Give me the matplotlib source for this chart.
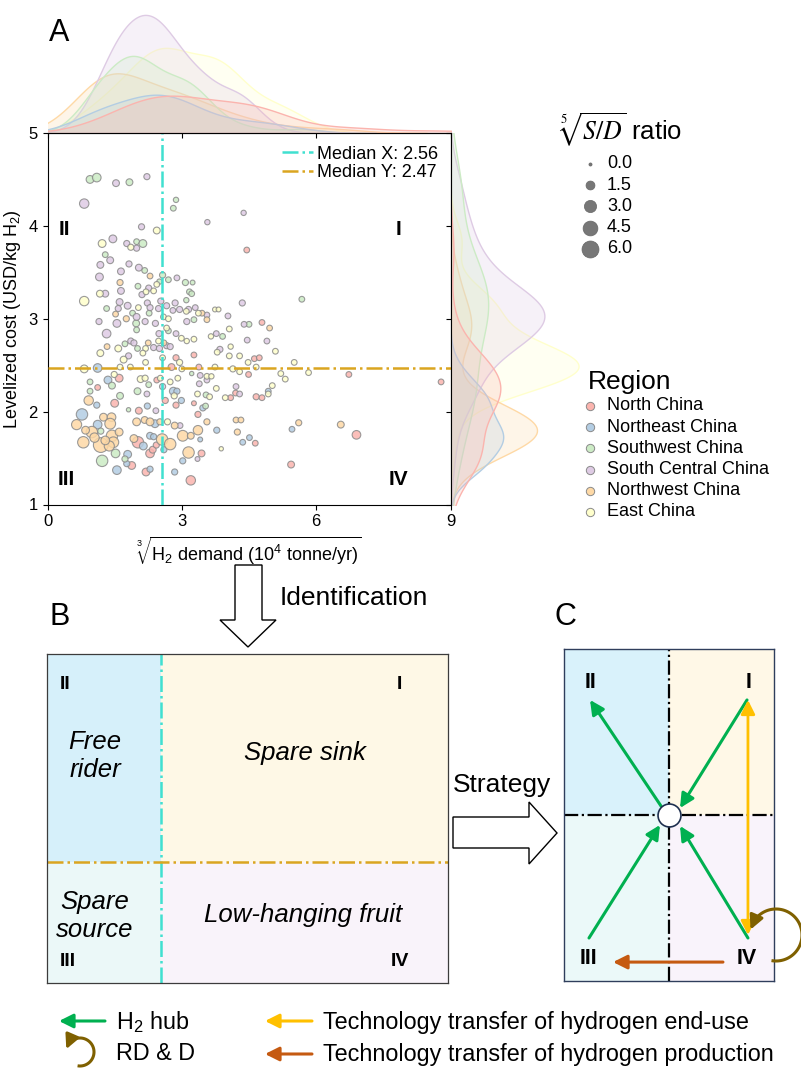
import numpy as np
import pandas as pd
import matplotlib
matplotlib.use('Agg')
import matplotlib.pyplot as plt
import seaborn as sns
from matplotlib.patches import Polygon, Rectangle

plt.rcParams['font.family'] = ['Liberation Sans', 'DejaVu Sans']
plt.rcParams['mathtext.fontset'] = 'custom'
plt.rcParams['mathtext.rm'] = 'Liberation Sans'
plt.rcParams['mathtext.it'] = 'Liberation Sans:italic'
plt.rcParams['mathtext.bf'] = 'Liberation Sans:bold'

# ---- data ----------------------------------------------------------------
regions = ['North China', 'Northeast China', 'Southwest China',
           'South Central China', 'Northwest China', 'East China']
region_colors = ['#fbb4ae', '#b3cde3', '#ccebc5', '#decbe4', '#fed9a6', '#ffffcc']

# (cube root of H2 demand, levelized cost, fifth root of S/D ratio)
north_china = [
    (4.45, 3.74, 0.5), (4.79, 2.96, 0.5), (2.87, 2.58, 0.6), (3.27, 2.61, 0.5),
    (4.62, 2.57, 0.5), (4.73, 2.58, 0.5), (2.77, 2.48, 0.8), (3.38, 2.48, 0.5),
    (4.49, 2.40, 0.5), (6.73, 2.40, 0.5), (8.79, 2.32, 0.5), (1.60, 2.36, 1.1),
    (2.44, 2.34, 0.5), (1.12, 2.26, 0.5), (4.09, 2.15, 0.5), (4.20, 2.20, 0.5),
    (4.66, 2.16, 0.6), (4.79, 2.15, 0.5), (1.50, 2.09, 1.1), (2.63, 2.12, 0.6),
    (2.87, 2.07, 0.6), (2.04, 2.01, 0.8), (3.27, 2.09, 0.3), (3.36, 1.97, 0.6),
    (2.02, 1.67, 2.6), (2.29, 1.55, 1.4), (2.35, 1.59, 0.8), (2.43, 1.64, 0.6),
    (4.64, 1.66, 0.5), (6.90, 1.75, 1.4), (3.44, 1.55, 0.8), (1.88, 1.42, 1.1),
    (2.20, 1.35, 1.1), (3.20, 1.26, 1.7), (5.44, 1.43, 0.8)]
northeast_china = [
    (1.12, 2.47, 1.4), (1.35, 2.34, 1.1), (4.93, 2.22, 0.5), (2.81, 2.22, 1.1),
    (2.89, 2.22, 0.6), (1.10, 2.07, 0.6), (2.99, 2.12, 0.6), (2.23, 2.06, 0.6),
    (3.47, 2.04, 0.6), (0.77, 1.97, 2.6), (1.12, 1.86, 1.4), (2.40, 1.87, 1.1),
    (2.14, 1.63, 1.1), (2.29, 1.74, 0.8), (2.37, 1.73, 0.6), (2.60, 1.59, 0.6),
    (3.41, 1.70, 0.3), (3.78, 1.80, 0.6), (4.36, 1.67, 0.5), (4.51, 1.72, 0.5),
    (5.46, 1.81, 0.5), (3.02, 1.47, 0.6), (1.79, 1.54, 1.1), (1.77, 1.44, 0.6),
    (1.55, 1.37, 1.4), (2.29, 1.38, 0.6), (2.84, 1.35, 0.6)]
southwest_china = [
    (0.95, 4.50, 1.1), (1.10, 4.52, 1.4), (1.83, 4.47, 0.8), (2.87, 4.28, 0.4),
    (2.81, 4.19, 0.5), (1.99, 3.83, 0.5), (2.13, 3.81, 1.1), (1.29, 3.69, 0.5),
    (2.17, 3.52, 0.5), (2.57, 3.47, 0.6), (2.70, 3.42, 0.5), (2.50, 3.40, 0.4),
    (2.02, 3.35, 0.5), (3.08, 3.39, 0.6), (3.24, 3.39, 0.3), (3.17, 3.29, 0.5),
    (3.22, 3.27, 0.5), (3.10, 3.20, 0.4), (1.32, 3.11, 0.5), (1.90, 3.06, 0.5),
    (2.27, 3.06, 0.5), (1.98, 2.95, 0.8), (3.27, 2.99, 0.5), (4.50, 2.94, 0.5),
    (1.99, 2.88, 0.5), (2.70, 2.87, 0.5), (3.91, 2.81, 0.5), (1.73, 2.73, 0.5),
    (2.01, 2.68, 0.5), (3.22, 2.41, 0.2), (0.95, 2.32, 0.5), (2.26, 2.29, 0.5),
    (0.95, 2.22, 0.5), (1.44, 2.28, 0.8), (2.01, 2.22, 0.8), (3.54, 2.18, 0.5),
    (1.62, 2.17, 0.8), (1.81, 2.02, 0.2), (3.53, 2.06, 0.5), (1.19, 1.79, 0.6),
    (1.52, 1.55, 1.4), (1.22, 1.47, 2.6), (1.73, 1.49, 0.6), (5.68, 3.21, 0.5)]
south_central_china = [
    (1.53, 4.46, 0.8), (2.22, 4.53, 0.6), (0.82, 4.24, 1.7), (4.38, 4.14, 0.4),
    (3.57, 4.04, 0.4), (2.10, 3.99, 0.6), (1.46, 3.86, 1.1), (1.77, 3.81, 0.6),
    (1.99, 3.76, 0.6), (1.40, 3.63, 0.8), (1.18, 3.58, 0.8), (1.82, 3.59, 0.6),
    (2.04, 3.55, 0.8), (1.64, 3.51, 0.8), (1.16, 3.45, 1.1), (2.89, 3.44, 0.5),
    (2.26, 3.33, 0.6), (1.64, 3.30, 0.8), (1.29, 3.27, 0.8), (2.11, 3.26, 0.6),
    (1.61, 3.18, 0.8), (2.23, 3.17, 0.6), (2.53, 3.19, 0.6), (2.85, 3.17, 0.6),
    (1.79, 3.14, 0.8), (1.58, 3.11, 0.6), (2.29, 3.12, 0.6), (2.48, 3.11, 0.6),
    (2.66, 3.14, 0.6), (2.80, 3.09, 0.5), (2.95, 3.10, 0.6), (3.15, 3.10, 0.6),
    (3.30, 3.12, 0.5), (3.56, 3.04, 0.5), (4.03, 3.03, 0.5), (4.35, 3.17, 0.6),
    (1.99, 3.02, 0.8), (1.15, 2.97, 0.6), (1.55, 2.95, 1.1), (2.18, 2.97, 0.6),
    (2.41, 2.95, 0.6), (3.11, 2.97, 0.6), (4.39, 2.94, 0.5), (2.49, 2.84, 0.6),
    (2.87, 2.84, 0.5), (1.32, 2.84, 1.4), (3.77, 2.84, 0.5), (4.46, 2.77, 0.5),
    (4.90, 2.76, 0.5), (1.86, 2.76, 0.6), (1.93, 2.74, 0.6), (2.66, 2.71, 0.6),
    (2.74, 2.70, 0.6), (2.37, 2.69, 0.6), (2.50, 2.68, 0.6), (3.85, 2.67, 0.6),
    (1.81, 2.60, 0.6), (3.41, 2.39, 0.5), (2.57, 2.27, 0.6), (3.39, 2.30, 0.5),
    (3.56, 2.34, 0.5), (4.21, 2.27, 0.5), (2.22, 2.19, 0.5), (4.29, 2.19, 0.5),
    (2.42, 2.01, 0.5), (2.96, 1.85, 0.5), (3.35, 1.49, 0.3)]
northwest_china = [
    (1.62, 3.39, 0.6), (2.29, 3.46, 0.5), (1.52, 3.05, 0.5), (3.45, 3.06, 0.5),
    (1.76, 3.00, 0.6), (3.56, 2.99, 0.5), (4.96, 2.90, 0.5), (2.25, 2.74, 0.5),
    (2.60, 2.74, 0.5), (1.33, 2.70, 0.5), (0.92, 2.12, 1.7), (1.25, 1.94, 1.1),
    (1.43, 1.94, 1.4), (0.65, 1.86, 2.0), (1.40, 1.87, 2.3), (1.99, 1.89, 1.1),
    (2.17, 1.91, 0.8), (2.29, 1.89, 1.1), (2.51, 1.89, 0.6), (2.84, 1.85, 0.8),
    (3.56, 1.89, 0.6), (4.21, 1.91, 0.5), (4.32, 1.91, 0.5), (5.61, 1.88, 0.6),
    (6.55, 1.86, 0.8), (0.99, 1.78, 2.6), (0.80, 1.67, 2.6), (1.19, 1.64, 4.5),
    (1.44, 1.74, 2.6), (1.47, 1.67, 2.3), (1.38, 1.63, 2.0), (1.29, 1.69, 1.4),
    (1.93, 1.71, 1.1), (2.56, 1.70, 2.6), (2.74, 1.65, 2.6), (3.02, 1.74, 2.3),
    (3.20, 1.74, 0.8), (3.36, 1.80, 1.7), (4.24, 1.78, 0.6), (3.15, 1.56, 2.6),
    (1.05, 1.72, 1.7), (0.85, 1.80, 1.1), (1.60, 1.78, 1.1)]
east_china = [
    (2.44, 3.95, 0.8), (1.22, 3.81, 1.1), (1.86, 3.77, 0.6), (2.44, 3.37, 0.5),
    (2.20, 3.29, 0.5), (2.37, 3.30, 0.5), (1.17, 3.27, 0.8), (0.82, 3.19, 1.7),
    (2.03, 3.12, 0.5), (3.10, 3.08, 0.5), (3.37, 3.06, 0.5), (3.74, 3.10, 0.3),
    (3.82, 3.10, 0.3), (2.59, 3.02, 0.5), (2.70, 3.00, 0.5), (4.06, 2.89, 0.5),
    (2.66, 2.90, 0.5), (3.65, 2.81, 0.4), (2.99, 2.79, 0.5), (3.11, 2.76, 0.4),
    (3.27, 2.78, 0.5), (2.48, 2.76, 0.5), (1.58, 2.68, 0.8), (2.19, 2.68, 0.5),
    (4.09, 2.70, 0.4), (3.79, 2.64, 0.5), (5.09, 2.65, 0.5), (1.18, 2.63, 0.8),
    (1.70, 2.56, 0.8), (2.13, 2.63, 0.5), (2.57, 2.58, 0.5), (2.95, 2.53, 0.6),
    (4.06, 2.60, 0.5), (4.29, 2.60, 0.5), (4.48, 2.53, 0.5), (5.51, 2.53, 0.5),
    (2.19, 2.53, 0.5), (1.49, 2.40, 0.6), (0.82, 2.46, 1.1), (1.62, 2.48, 0.5),
    (1.85, 2.48, 0.5), (3.00, 2.46, 0.5), (3.74, 2.48, 0.5), (4.14, 2.46, 0.6),
    (4.66, 2.48, 0.5), (4.29, 2.43, 0.5), (5.21, 2.41, 0.5), (5.31, 2.35, 0.5),
    (5.83, 2.42, 0.5), (3.56, 2.38, 0.5), (3.66, 2.38, 0.4), (2.08, 2.35, 0.8),
    (2.18, 2.36, 0.6), (2.52, 2.36, 0.5), (2.74, 2.32, 0.5), (2.91, 2.36, 0.5),
    (3.77, 2.25, 0.5), (5.02, 2.28, 0.5), (2.83, 2.17, 0.6), (3.35, 2.19, 0.5),
    (3.62, 2.16, 0.5), (3.97, 2.15, 0.5), (4.93, 2.19, 0.5), (2.68, 1.89, 0.6),
    (3.88, 1.60, 0.2)]
region_points = [north_china, northeast_china, southwest_china,
                 south_central_china, northwest_china, east_china]

median_x = 2.56
median_y = 2.47
size_ticks = [0.0, 1.5, 3.0, 4.5, 6.0]
x_ticks = [0, 3, 6, 9]
y_ticks = [1, 2, 3, 4, 5]

strategy_labels = ['H$_2$ hub', 'RD & D',
                   'Technology transfer of hydrogen end-use',
                   'Technology transfer of hydrogen production']
green, yellow, brown, olive = '#00b050', '#ffc000', '#c55a11', '#7f6000'
turq, gold = '#40e0d0', '#daa520'


def marker_area(r):
    return 5 + 24 * np.asarray(r)


W, H = 801, 1068


def px_rect(x0, y0, x1, y1):
    return [x0 / W, 1 - y1 / H, (x1 - x0) / W, (y1 - y0) / H]


df = pd.concat([pd.DataFrame(p, columns=['demand', 'cost', 'ratio']).assign(region=n)
                for n, p in zip(regions, region_points)], ignore_index=True)
palette = dict(zip(regions, region_colors))

fig = plt.figure(figsize=(W / 100, H / 100), dpi=100)

# overlay in pixel units for annotations
ov = fig.add_axes([0, 0, 1, 1])
ov.set_xlim(0, W)
ov.set_ylim(H, 0)
ov.axis('off')
ov.set_zorder(5)

# ---- panel A ----------------------------------------------------------------
ax = fig.add_axes(px_rect(47.5, 133, 450.5, 504.5))
ax_top = fig.add_axes(px_rect(47.5, 9, 450.5, 133), sharex=ax)
ax_right = fig.add_axes(px_rect(450.5, 133, 585, 504.5), sharey=ax)

for name, color in zip(regions, region_colors):
    sub = df[df.region == name]
    ax.scatter(sub.demand, sub.cost, s=marker_area(sub.ratio), color=color,
               edgecolors='#8a8a8a', linewidths=0.8, alpha=0.85, zorder=3)

ax.axvline(median_x, color=turq, ls='-.', lw=1.8, zorder=4,
           label=f'Median X: {median_x:.2f}')
ax.axhline(median_y, color=gold, ls='-.', lw=1.8, zorder=4,
           label=f'Median Y: {median_y:.2f}')
ax.legend(loc='upper right', frameon=False, fontsize=13, handlelength=1.7,
          handletextpad=0.2, labelspacing=0.1, borderaxespad=0.3)

for lab, fx, fy in [('II', 0.043, 0.739), ('I', 0.872, 0.739),
                    ('III', 0.046, 0.066), ('IV', 0.872, 0.066)]:
    ax.text(fx, fy, lab, transform=ax.transAxes, fontsize=15,
            fontweight='bold', ha='center', va='center')

ax.set_xlim(0, 9)
ax.set_ylim(1, 5)
ax.set_xticks(x_ticks)
ax.set_yticks(y_ticks)
ax.tick_params(labelsize=12, length=3.5)
ax.set_xlabel(r'$\sqrt[3]{\mathrm{H_2\ demand\ (10^4\ tonne/yr)}}$', fontsize=13)
ax.set_ylabel('Levelized cost (USD/kg H$_2$)', fontsize=13)

kde_kw = dict(hue='region', hue_order=regions, palette=palette, fill=True,
              common_norm=True, alpha=0.25, linewidth=1, legend=False)
sns.kdeplot(data=df, x='demand', ax=ax_top, **kde_kw)
sns.kdeplot(data=df, y='cost', ax=ax_right, **kde_kw)
ax.set_xlim(0, 9)
ax.set_ylim(1, 5)

for m in (ax_top, ax_right):
    m.patch.set_alpha(0)
    m.set_xlabel('')
    m.set_ylabel('')
for s in ('left', 'top', 'right'):
    ax_top.spines[s].set_visible(False)
for s in ('bottom', 'top', 'right'):
    ax_right.spines[s].set_visible(False)
ax_top.tick_params(axis='x', labelbottom=False, length=3.5)
ax_top.tick_params(axis='y', left=False, labelleft=False)
ax_right.tick_params(axis='y', labelleft=False, length=3.5)
ax_right.tick_params(axis='x', bottom=False, labelbottom=False)

# size legend
ov.text(558, 130, r'$\sqrt[5]{S/D}$ ratio', fontsize=18.5, va='center',
        ha='left', math_fontfamily='stix')
for i, r in enumerate(size_ticks):
    y = 164 + 21.2 * i
    ov.scatter(590, y, s=marker_area(r), color='#777777', edgecolors='#666666',
               linewidths=0.5)
    ov.text(607, y, f'{r:.1f}', fontsize=13, va='center')

# region legend
ov.text(588, 382, 'Region', fontsize=19, va='center')
for i, (name, color) in enumerate(zip(regions, region_colors)):
    y = 406 + 21.2 * i
    ov.scatter(590, y, s=36, color=color, edgecolors='#8a8a8a', linewidths=0.7)
    ov.text(607, y, name, fontsize=13, va='center')

ov.text(49, 33, 'A', fontsize=22, va='center')
ov.text(50, 617, 'B', fontsize=22, va='center')
ov.text(555, 617, 'C', fontsize=22, va='center')

# block arrows
ov.add_patch(Polygon([(235, 565), (262, 565), (262, 620), (276, 620), (248, 647),
                      (220, 620), (235, 620)], closed=True, fc='white',
                     ec='black', lw=1.0))
ov.text(280, 598, 'Identification', fontsize=19, va='center')
ov.add_patch(Polygon([(453, 817), (529, 817), (529, 802), (557, 833), (529, 864),
                      (529, 848), (453, 848)], closed=True, fc='white',
                     ec='black', lw=1.0))
ov.text(453, 785, 'Strategy', fontsize=19, va='center')

# ---- panel B ----------------------------------------------------------------
axB = fig.add_axes(px_rect(47, 654, 448, 983))
axB.set_xlim(0, 9)
axB.set_ylim(1, 5)
quad_b = [((0, median_y), median_x, 5 - median_y, '#d6f0fa'),
          ((median_x, median_y), 9 - median_x, 5 - median_y, '#fef8e6'),
          ((0, 1), median_x, median_y - 1, '#ebf8f8'),
          ((median_x, 1), 9 - median_x, median_y - 1, '#f9f3fa')]
for xy, w, h, c in quad_b:
    axB.add_patch(Rectangle(xy, w, h, color=c, lw=0))
axB.axvline(median_x, color=turq, ls='-.', lw=1.8)
axB.axhline(median_y, color=gold, ls='-.', lw=1.8)
axB.set_xticks([])
axB.set_yticks([])
for s in axB.spines.values():
    s.set_color('#3c3c3c')
    s.set_linewidth(0.9)
for lab, fx, fy in [('II', 0.045, 0.906), ('I', 0.88, 0.906),
                    ('III', 0.052, 0.064), ('IV', 0.88, 0.064)]:
    axB.text(fx, fy, lab, transform=axB.transAxes, fontsize=14,
             fontweight='bold', ha='center', va='center')
for lab, fx, fy in [('Free\nrider', 0.12, 0.69), ('Spare sink', 0.644, 0.699),
                    ('Spare\nsource', 0.12, 0.204),
                    ('Low-hanging fruit', 0.638, 0.207)]:
    axB.text(fx, fy, lab, transform=axB.transAxes, fontsize=18.5,
             fontstyle='italic', ha='center', va='center', linespacing=1.2)

# ---- panel C ----------------------------------------------------------------
axC = fig.add_axes(px_rect(564, 649, 774, 981))
axC.set_xlim(-1, 1)
axC.set_ylim(-1, 1)
quad_c = [((-1, 0), '#d9f2fb'), ((0, 0), '#fff8e7'),
          ((-1, -1), '#ebf9f9'), ((0, -1), '#f9f3fb')]
for xy, c in quad_c:
    axC.add_patch(Rectangle(xy, 1, 1, color=c, lw=0))
axC.axvline(0, color='black', ls='-.', lw=1.6)
axC.axhline(0, color='black', ls='-.', lw=1.6)
axC.set_xticks([])
axC.set_yticks([])
for s in axC.spines.values():
    s.set_color('#2f3e5c')
    s.set_linewidth(1.0)

arrow_kw = dict(arrowstyle='-|>,head_length=0.6,head_width=0.3',
                lw=2.2, shrinkA=0, shrinkB=0, mutation_scale=14)
for tail, tip in [((-0.076, 0.054), (-0.752, 0.693)),
                  ((0.743, 0.693), (0.105, 0.042)),
                  ((-0.762, -0.741), (-0.086, -0.060)),
                  ((0.752, -0.741), (0.105, -0.066))]:
    axC.annotate('', xy=tip, xytext=tail, arrowprops=dict(color=green, **arrow_kw))
axC.annotate('', xy=(0.752, 0.693), xytext=(0.752, -0.723),
             arrowprops=dict(color=yellow,
                             arrowstyle='<|-|>,head_length=0.6,head_width=0.3',
                             lw=2.0, shrinkA=0, shrinkB=0, mutation_scale=14))
axC.annotate('', xy=(-0.533, -0.886), xytext=(0.514, -0.886),
             arrowprops=dict(color=brown, **arrow_kw))
axC.plot(0, 0, 'o', ms=16.5, mfc='white', mec='#1f3050', mew=1.2, zorder=5)
for lab, cx, cy in [('II', -0.752, 0.80), ('I', 0.762, 0.80),
                    ('III', -0.771, -0.867), ('IV', 0.743, -0.867)]:
    axC.text(cx, cy, lab, fontsize=15.5, fontweight='bold', ha='center', va='center')


def loop(cx, cy, r, lw):
    t = np.deg2rad(np.linspace(-100, 150, 80))
    ov.plot(cx + r * np.cos(t), cy - r * np.sin(t), color=olive, lw=lw,
            solid_capstyle='butt', clip_on=False)
    t0, t1 = np.deg2rad(145), np.deg2rad(168)
    ov.annotate('', xy=(cx + r * np.cos(t1), cy - r * np.sin(t1)),
                xytext=(cx + r * np.cos(t0), cy - r * np.sin(t0)),
                arrowprops=dict(color=olive, **{**arrow_kw, 'lw': lw}))


loop(776, 935, 26, 2.2)

# ---- strategy legend --------------------------------------------------------
leg_rows = [(59, 105, 1021, green), (61, 0, 1053, olive),
            (265, 312, 1021, yellow), (265, 312, 1054, brown)]
for (x0, x1, y, c), lab in zip(leg_rows, strategy_labels):
    if c == olive:
        loop(80, 1052, 14, 2.2)
        tx = 116
    else:
        ov.annotate('', xy=(x0, y), xytext=(x1, y),
                    arrowprops=dict(color=c, **arrow_kw))
        tx = x1 + 11
    ov.text(tx, y + 1, lab, fontsize=16.8, va='center')

fig.savefig('out.png', dpi=100)
